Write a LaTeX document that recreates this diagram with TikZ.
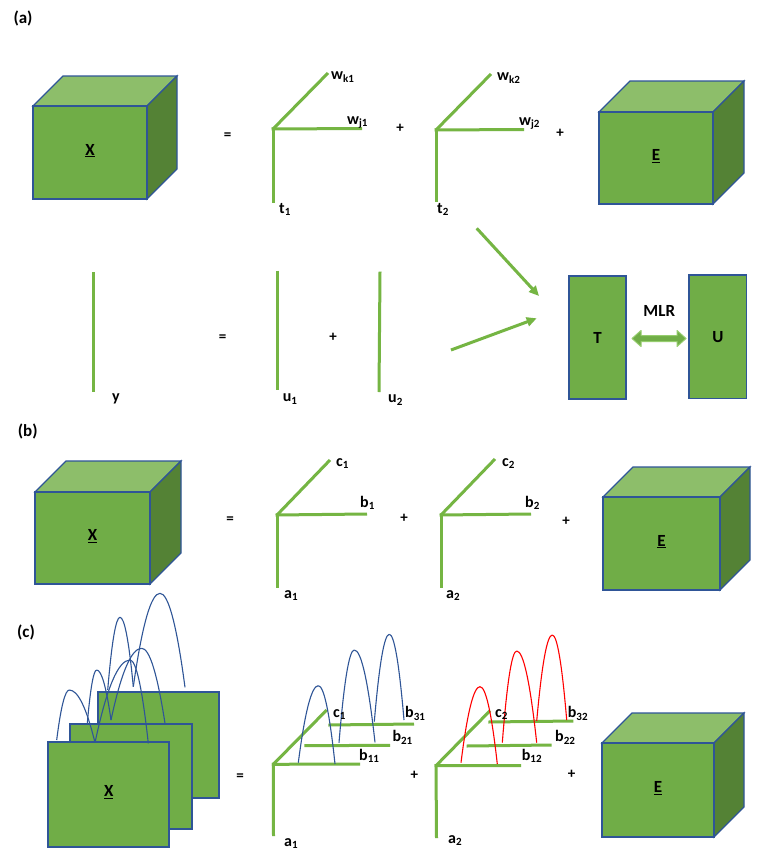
\documentclass[tikz,border=0pt]{standalone}
\usepackage{fontspec}
\setmainfont{Carlito}
\usetikzlibrary{arrows.meta}
\definecolor{frontg}{RGB}{112,173,71}
\definecolor{topg}{RGB}{141,190,106}
\definecolor{sideg}{RGB}{84,130,53}
\definecolor{bord}{RGB}{47,85,151}
\definecolor{axg}{RGB}{117,181,67}
\definecolor{lineblue}{RGB}{47,85,151}
\definecolor{arrowedge}{RGB}{150,205,110}
\tikzset{
  face/.style={draw=bord, line width=1.2pt},
  axis/.style={draw=axg, line width=3pt},
  garrow/.style={draw=axg, line width=3pt, -{Triangle[length=10pt,width=9pt]}},
  lbl/.style={inner sep=0pt, anchor=base west, font=\fontsize{16}{18}\selectfont\bfseries},
  big/.style={inner sep=0pt, font=\fontsize{17}{20}\selectfont\bfseries},
  op/.style={inner sep=0pt, font=\fontsize{15}{17}\selectfont\bfseries},
  bluec/.style={draw=lineblue, line width=1.1pt},
  redc/.style={draw=red, line width=1.1pt},
  mbox/.style={draw=bord, fill=frontg, line width=1.2pt, inner sep=0pt, font=\fontsize{17}{20}\selectfont\bfseries}
}
\newcommand\sbs[1]{\raisebox{-2.5pt}{\fontsize{11}{12}\selectfont #1}}
% cube: name, front x1,y1,x2,y2, depth, label
\newcommand\gcube[7]{%
  \filldraw[face, fill=topg] (#2,#3) -- ({#2+#6},{#3-#6}) -- ({#4+#6},{#3-#6}) -- (#4,#3) -- cycle;
  \filldraw[face, fill=sideg] (#4,#3) -- ({#4+#6},{#3-#6}) -- ({#4+#6},{#5-#6}) -- (#4,#5) -- cycle;
  \filldraw[face, fill=frontg] (#2,#3) rectangle (#4,#5);
  \node[big] (#1) at ({(#2+#4)/2},{(#3+#5)/2-2}) {\underline{#7}};
}
% triad: prefix, origin, diagonal end, horizontal end, vertical end
\newcommand\triad[9]{%
  \coordinate (#1o) at (#2,#3);
  \coordinate (#1c) at (#4,#5);
  \coordinate (#1h) at (#6,#7);
  \coordinate (#1v) at (#8,#9);
  \draw[axis] (#1o) -- (#1c);
  \draw[axis] ([xshift=-1.5pt]#1o) -- (#1h);
  \draw[axis] ([yshift=1.5pt]#1o) -- (#1v);
}
% rising half of an arch (base to peak) and falling half (peak to base)
\newcommand\segup[5]{\draw[#1] (#2,#3) .. controls ({#2+(#4-#2)/3},{#3-2*(#3-#5)/3}) and ({#4-(#4-#2)/3},#5) .. (#4,#5);}
\newcommand\segdn[5]{\draw[#1] (#2,#3) .. controls ({#2+(#4-#2)/3},#3) and ({#4-(#4-#2)/3},{#5-2*(#5-#3)/3}) .. (#4,#5);}
\newcommand\arch[7]{\segup{#1}{#2}{#3}{#4}{#5}\segdn{#1}{#4}{#5}{#6}{#7}}

\begin{document}
\begin{tikzpicture}[x=1pt,y=-1pt]
\fill[white] (0,0) rectangle (760,859);
\useasboundingbox (0,0) rectangle (760,859);

% ---------------- (a) ----------------
\node[big] (la) at (23,18) {(a)};
\gcube{Xa}{33}{106}{147}{199}{30}{X}
\node[op] (eqa) at (227.7,136) {=};
\triad{p}{273}{129}{328}{73}{362}{128.5}{273}{203}
\node[lbl] (wk1) at (331,80) {w\sbs{k1}};
\node[lbl] (wj1) at (347,124) {w\sbs{j1}};
\node[lbl] (t1) at (279,213) {t\sbs{1}};
\node[op] (pa1) at (400,128.3) {+};
\triad{q}{436}{130}{491}{74}{524}{129.5}{436}{202}
\node[lbl] (wk2) at (497,81) {w\sbs{k2}};
\node[lbl] (wj2) at (519,125) {w\sbs{j2}};
\node[lbl] (t2) at (437,213) {t\sbs{2}};
\node[op] (pa2) at (560,133.3) {+};
\gcube{Ea}{599}{112}{713}{204}{31}{E}

% lower row of (a)
\coordinate (yt) at (93,272);  \coordinate (yb) at (93,392);
\draw[axis] (yt) -- (yb);
\node[lbl] (ylab) at (112,401) {y};
\node[op] (eqy) at (222.7,338) {=};
\coordinate (u1t) at (277.7,270.7); \coordinate (u1b) at (277.7,390);
\draw[axis] (u1t) -- (u1b);
\node[lbl] (u1) at (282.7,401.7) {u\sbs{1}};
\node[op] (py) at (333,337) {+};
\coordinate (u2t) at (380,271.7); \coordinate (u2b) at (379,392);
\draw[axis] (u2t) -- (u2b);
\node[lbl] (u2) at (388,402.7) {u\sbs{2}};

\coordinate (ar1s) at (476.7,228.3); \coordinate (ar1e) at (539,296);
\coordinate (ar2s) at (451,350);     \coordinate (ar2e) at (536.7,318.3);
\draw[garrow] (ar1s) -- (ar1e);
\draw[garrow] (ar2s) -- (ar2e);

\node[mbox, minimum width=57pt, minimum height=123pt] (T) at (597.5,337.5) {T};
\node[mbox, minimum width=57.7pt, minimum height=123.3pt] (U) at (717.8,336.7) {U};
\node[big] (mlr) at (659.3,310.7) {MLR};
\filldraw[fill=frontg, draw=arrowedge, line width=1pt, line join=round]
  (632,338.5) -- (641,330.5) -- (641,335.5) -- (677,335.5) -- (677,330.5) -- (686,338.5)
  -- (677,346.5) -- (677,341.5) -- (641,341.5) -- (641,346.5) -- cycle;

% ---------------- (b) ----------------
\node[big] (lb) at (27.7,431.7) {(b)};
\gcube{Xb}{35}{492}{150}{584}{31}{X}
\node[op] (eqb) at (230,520) {=};
\triad{r}{277}{515}{330}{460}{367}{514}{277}{588}
\node[lbl] (c1b) at (336,466) {c\sbs{1}};
\node[lbl] (b1b) at (360,507) {b\sbs{1}};
\node[lbl] (a1b) at (284,598) {a\sbs{1}};
\node[op] (pb1) at (404,518) {+};
\triad{s}{441}{515}{495}{459}{531}{514}{441}{588}
\node[lbl] (c2b) at (502,466) {c\sbs{2}};
\node[lbl] (b2b) at (525,507) {b\sbs{2}};
\node[lbl] (a2b) at (446,598) {a\sbs{2}};
\node[op] (pb2) at (566,521) {+};
\gcube{Eb}{603}{497}{720}{590}{30}{E}

% ---------------- (c) ----------------
\node[big] (lc) at (26,632) {(c)};
% back slice and its profile
\filldraw[face, fill=frontg] (98,692) rectangle (219,798);
\segup{bluec}{107.7}{690}{120}{617.3}
\segdn{bluec}{120}{617.3}{133.3}{686.7}
\segup{bluec}{133.3}{686.7}{160}{593.3}
\segdn{bluec}{160}{593.3}{185}{687.3}
% middle slice
\filldraw[face, fill=frontg] (70,724) rectangle (192,829);
\segup{bluec}{87.3}{723.3}{96.7}{670}
\segdn{bluec}{96.7}{670}{111}{720}
\segup{bluec}{111}{720}{141.7}{648.3}
\segdn{bluec}{141.7}{648.3}{165}{723.3}
% front slice
\filldraw[face, fill=frontg] (48,742) rectangle (169,847);
\segup{bluec}{56.7}{740}{69.3}{690}
\segdn{bluec}{69.3}{690}{95}{742.7}
\segup{bluec}{95}{742.7}{130}{660}
\segdn{bluec}{130}{660}{148.3}{743.3}
\node[big] (Xc) at (108.7,792) {\underline{X}};

\node[op] (eqc) at (240,776.7) {=};
% component 1
\triad{m}{273.3}{764.3}{326.7}{710}{360}{764}{273.5}{836}
\coordinate (m2s) at (304.3,745.7); \coordinate (m2e) at (390,745.3);
\coordinate (m3s) at (328.3,725);   \coordinate (m3e) at (414,724);
\draw[axis] (m2s) -- (m2e);
\draw[axis] (m3s) -- (m3e);
\arch{bluec}{298.3}{762.7}{318.3}{685.7}{335}{764}
\arch{bluec}{339}{742.7}{354.3}{650}{375}{742.3}
\arch{bluec}{374.3}{721.7}{389.3}{634.3}{404}{720}
\node[lbl] (c1c) at (333,717.3) {c\sbs{1}};
\node[lbl] (b31) at (405,717.7) {b\sbs{31}};
\node[lbl] (b21) at (392.3,741.7) {b\sbs{21}};
\node[lbl] (b11) at (359,760) {b\sbs{11}};
\node[lbl] (a1c) at (284,846) {a\sbs{1}};
\node[op] (pc1) at (414.3,775) {+};
% component 2
\triad{n}{436}{765.7}{490}{710.7}{521}{765.5}{436.5}{838}
\coordinate (n2s) at (466.7,746); \coordinate (n2e) at (551.7,745);
\coordinate (n3s) at (488.3,722); \coordinate (n3e) at (573.3,721);
\draw[axis] (n2s) -- (n2e);
\draw[axis] (n3s) -- (n3e);
\arch{redc}{461}{762.7}{480}{686.7}{497.3}{764}
\arch{redc}{502.3}{742.7}{516.7}{651}{536.7}{742.7}
\arch{redc}{536.7}{721}{552.3}{635}{566.7}{720}
\node[lbl] (c2c) at (495,717.3) {c\sbs{2}};
\node[lbl] (b32) at (567.7,717.7) {b\sbs{32}};
\node[lbl] (b22) at (555,741.7) {b\sbs{22}};
\node[lbl] (b12) at (521.7,760) {b\sbs{12}};
\node[lbl] (a2c) at (448,843) {a\sbs{2}};
\node[op] (pc2) at (571.7,774.3) {+};
\gcube{Ec}{602}{743}{714}{837}{30}{E}
\end{tikzpicture}
\end{document}
